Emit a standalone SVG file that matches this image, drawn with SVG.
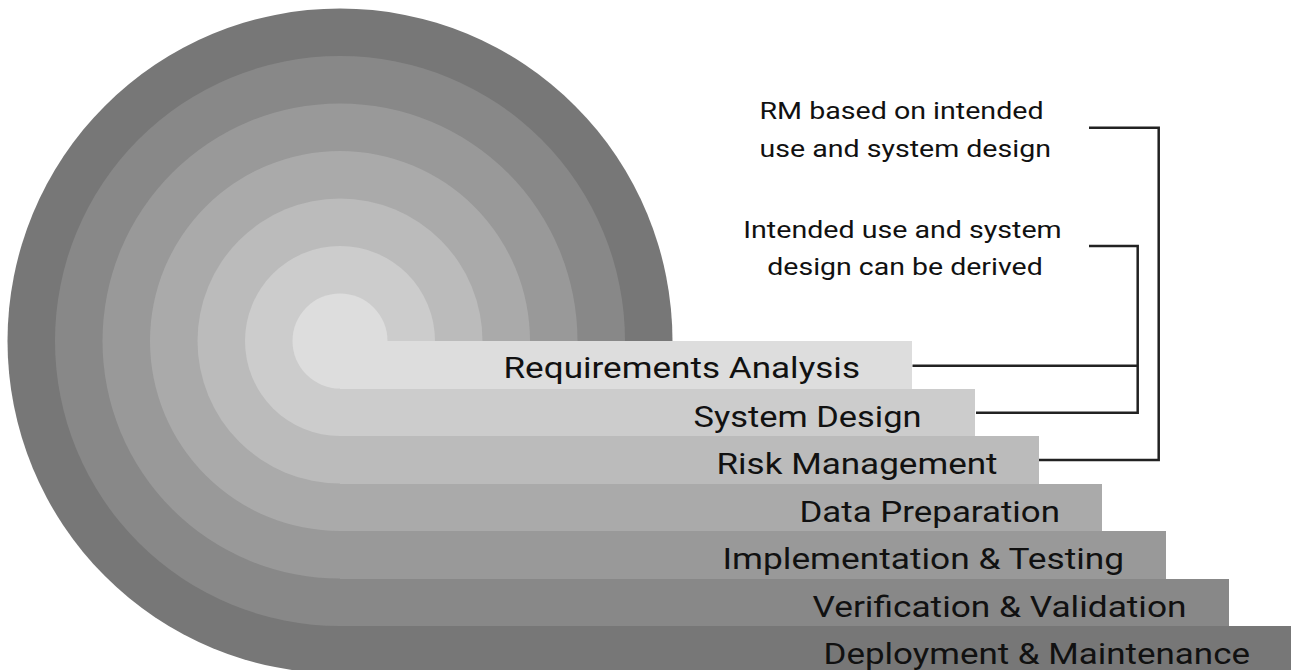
<svg xmlns="http://www.w3.org/2000/svg" width="1291" height="670" viewBox="0 0 1291 670">
  <style>
    .label { font-family: Roboto, "Liberation Sans", sans-serif; font-size: 30px; fill: #111; }
    .note { font-family: Roboto, "Liberation Sans", sans-serif; font-size: 24px; fill: #111; }
    .link { fill: none; stroke: #222; stroke-width: 2.5; }
    .bar { shape-rendering: crispEdges; }
    .b0 { fill: #dddddd; } .b1 { fill: #cccccc; } .b2 { fill: #bbbbbb; }
    .b3 { fill: #aaaaaa; } .b4 { fill: #999999; } .b5 { fill: #888888; } .b6 { fill: #777777; }
  </style>
  <rect width="1291" height="670" fill="#ffffff"/>

  <!-- concentric rings, outermost first -->
  <g id="rings">
    <circle class="b6" cx="340" cy="341" r="332.5"/>
    <circle class="b5" cx="340" cy="341" r="285"/>
    <circle class="b4" cx="340" cy="341" r="237.5"/>
    <circle class="b3" cx="340" cy="341" r="190"/>
    <circle class="b2" cx="340" cy="341" r="142.5"/>
    <circle class="b1" cx="340" cy="341" r="95"/>
    <circle class="b0" cx="340" cy="341" r="47.5"/>
  </g>

  <!-- stage bars with their labels (labels set in a widened face) -->
  <g id="requirements-analysis">
    <rect class="bar b0" x="340" y="341" width="572" height="48"/>
    <text class="label" transform="translate(503.5 377.5) scale(1.17 1)" textLength="304.7" lengthAdjust="spacingAndGlyphs">Requirements Analysis</text>
  </g>
  <g id="system-design">
    <rect class="bar b1" x="340" y="389" width="635" height="47"/>
    <text class="label" transform="translate(693.5 426.5) scale(1.17 1)" textLength="194.9" lengthAdjust="spacingAndGlyphs">System Design</text>
  </g>
  <g id="risk-management">
    <rect class="bar b2" x="340" y="436" width="699" height="48"/>
    <text class="label" transform="translate(716.5 474) scale(1.17 1)" textLength="240.2" lengthAdjust="spacingAndGlyphs">Risk Management</text>
  </g>
  <g id="data-preparation">
    <rect class="bar b3" x="340" y="484" width="762" height="47"/>
    <text class="label" transform="translate(799.5 521.5) scale(1.17 1)" textLength="222.6" lengthAdjust="spacingAndGlyphs">Data Preparation</text>
  </g>
  <g id="implementation-testing">
    <rect class="bar b4" x="340" y="531" width="826" height="48"/>
    <text class="label" transform="translate(722.5 568.5) scale(1.17 1)" textLength="343.2" lengthAdjust="spacingAndGlyphs">Implementation &amp; Testing</text>
  </g>
  <g id="verification-validation">
    <rect class="bar b5" x="340" y="579" width="889" height="47"/>
    <text class="label" transform="translate(812.5 616.5) scale(1.17 1)" textLength="319.7" lengthAdjust="spacingAndGlyphs">Verification &amp; Validation</text>
  </g>
  <g id="deployment-maintenance">
    <rect class="bar b6" x="340" y="626" width="951" height="44"/>
    <text class="label" transform="translate(823.5 663.5) scale(1.17 1)" textLength="364.5" lengthAdjust="spacingAndGlyphs">Deployment &amp; Maintenance</text>
  </g>

  <!-- annotations -->
  <g id="note-rm">
    <text class="note" transform="translate(759.5 119.3) scale(1.2 1)" textLength="236.7" lengthAdjust="spacingAndGlyphs">RM based on intended</text>
    <text class="note" transform="translate(759.5 156.7) scale(1.2 1)" textLength="242.9" lengthAdjust="spacingAndGlyphs">use and system design</text>
  </g>
  <g id="note-derived">
    <text class="note" transform="translate(743.3 237.7) scale(1.2 1)" textLength="265.3" lengthAdjust="spacingAndGlyphs">Intended use and system</text>
    <text class="note" transform="translate(767.3 275) scale(1.2 1)" textLength="229.5" lengthAdjust="spacingAndGlyphs">design can be derived</text>
  </g>

  <!-- bracket connectors -->
  <g id="connectors">
    <path class="link" d="M1089 246 H1137.7 V412.7 H976"/>
    <path class="link" d="M912.5 365.7 H1137.7"/>
    <path class="link" d="M1089 127.7 H1158.7 V460 H1039"/>
  </g>
</svg>
